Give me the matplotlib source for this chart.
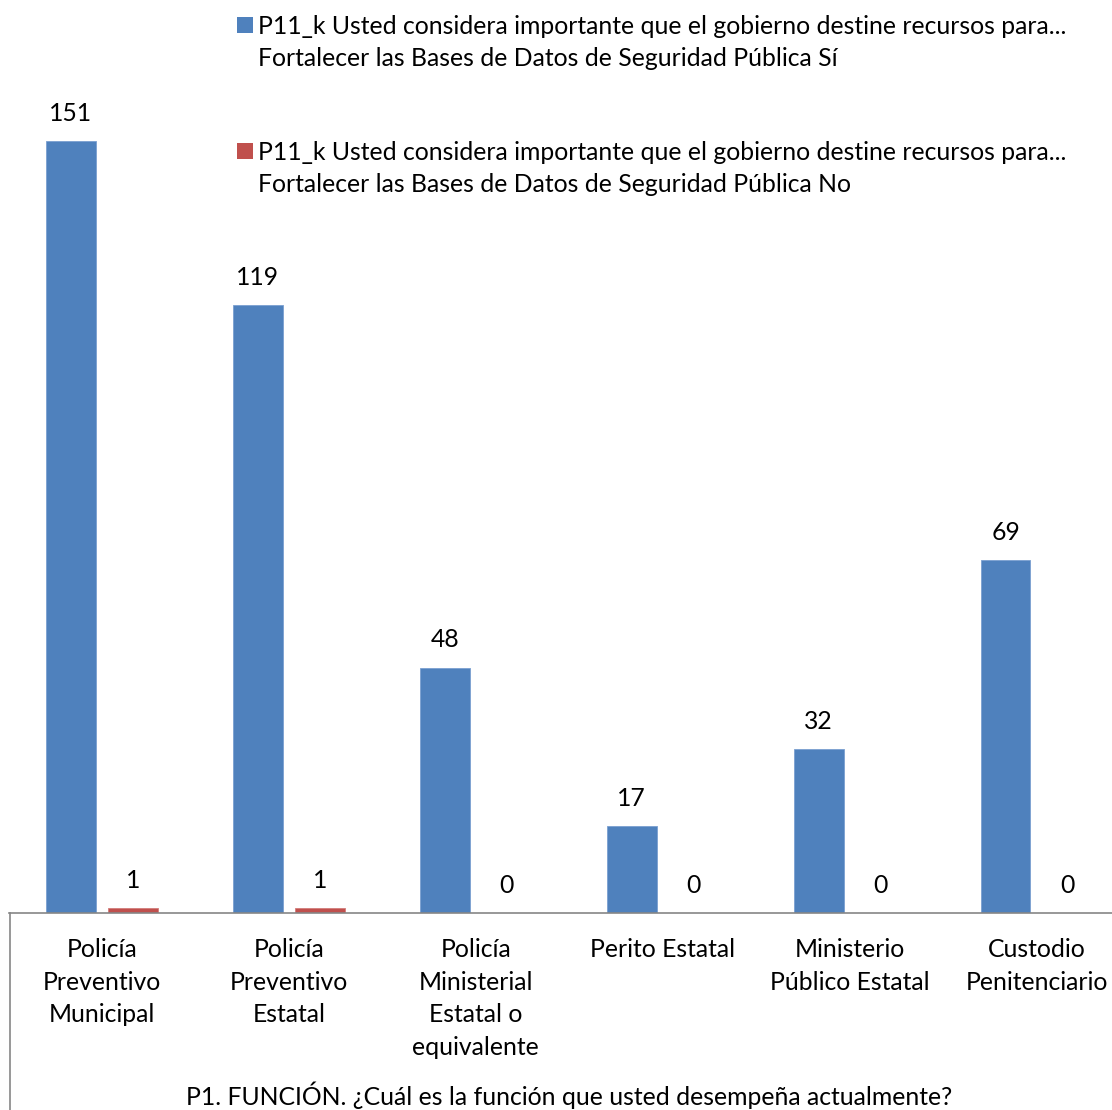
import matplotlib
matplotlib.use("Agg")
import matplotlib.pyplot as plt
import numpy as np
from matplotlib.patches import Rectangle
from matplotlib.lines import Line2D

plt.rcParams['font.family'] = ['Lato', 'DejaVu Sans']

categories = ["Policía\nPreventivo\nMunicipal", "Policía\nPreventivo\nEstatal",
              "Policía\nMinisterial\nEstatal o\nequivalente", "Perito Estatal",
              "Ministerio\nPúblico Estatal", "Custodio\nPenitenciario"]
si_values = [151, 119, 48, 17, 32, 69]
no_values = [1, 1, 0, 0, 0, 0]
series_names = [
    "P11_k Usted considera importante que el gobierno destine recursos para...\nFortalecer las Bases de Datos de Seguridad Pública Sí",
    "P11_k Usted considera importante que el gobierno destine recursos para...\nFortalecer las Bases de Datos de Seguridad Pública No",
]
axis_title = "P1. FUNCIÓN. ¿Cuál es la función que usted desempeña actualmente?"

blue = "#4F81BD"
red = "#C0504D"
W, H = 1112, 1110
fs = 17.8

fig = plt.figure(figsize=(W / 100, H / 100), dpi=100)
# plot area runs a little past the right edge, as in the source
ax = fig.add_axes([8.5 / W, (H - 913) / H, 1121.5 / W, 817.6 / H])

x = np.arange(len(categories))
bw = 0.267
b1 = ax.bar(x - 0.166, si_values, bw, color=blue, edgecolor="#7A9FD0", linewidth=0.6)
b2 = ax.bar(x + 0.166, no_values, bw, color=red, edgecolor="#D27C7A", linewidth=0.6)

for bars, vals in ((b1, si_values), (b2, no_values)):
    for rect, v in zip(bars, vals):
        ax.annotate(str(v), (rect.get_x() + rect.get_width() / 2, v),
                    xytext=(0, 20), textcoords="offset points",
                    ha="center", va="center", fontsize=fs, color="#000000")

ax.set_xlim(-0.5, len(categories) - 0.5)
ax.set_ylim(0, 160)
ax.set_yticks([])
ax.set_xticks(x)
ax.set_xticklabels(categories, fontsize=fs, linespacing=1.51, va="top")
ax.tick_params(axis="x", length=0, pad=18)
for s in ("top", "right", "left"):
    ax.spines[s].set_visible(False)
ax.spines["bottom"].set_color("#868686")
ax.spines["bottom"].set_linewidth(1.2)

ax.text(0.5, -0.223, axis_title, transform=ax.transAxes, ha="center",
        va="center", fontsize=fs)

# border of the lower box
fig.add_artist(Line2D([9.5 / W, 9.5 / W], [0, (H - 913) / H],
                      color="#868686", linewidth=1.2))

# legend
for i, (name, col) in enumerate(zip(series_names, [blue, red])):
    top = 17 + i * 126
    fig.add_artist(Rectangle((237 / W, (H - top - 16) / H), 16 / W, 16 / H,
                             facecolor=col, edgecolor="none"))
    fig.text(258 / W, (H - top + 2) / H, name, ha="left", va="top",
             fontsize=fs, linespacing=1.48)

fig.savefig("out.png", dpi=100)
